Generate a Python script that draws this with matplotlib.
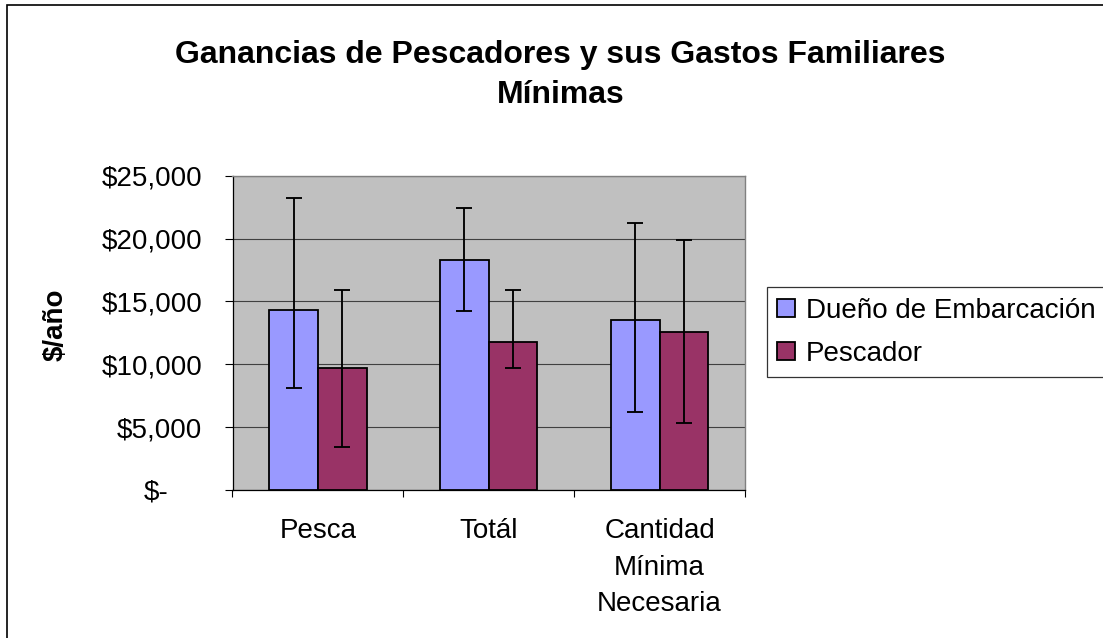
import matplotlib
matplotlib.use("Agg")
import matplotlib.pyplot as plt
import numpy as np
from matplotlib.patches import Rectangle

# ---- data ----
categories = ["Pesca", "Totál", "Cantidad\nMínima\nNecesaria"]
series_names = ["Dueño de Embarcación", "Pescador"]
dueno = [14300, 18300, 13500]
dueno_low = [8100, 14200, 6200]
dueno_high = [23200, 22400, 21200]
pescador = [9700, 11800, 12600]
pescador_low = [3400, 9700, 5300]
pescador_high = [15900, 15900, 19900]
ytick_values = [0, 5000, 10000, 15000, 20000, 25000]
ytick_labels = ["$-", "$5,000", "$10,000", "$15,000", "$20,000", "$25,000"]
title = "Ganancias de Pescadores y sus Gastos Familiares\nMínimas"
ylabel = "$/año"

W, H = 1103, 638
plt.rcParams['font.family'] = ['Liberation Sans', 'DejaVu Sans']
fig = plt.figure(figsize=(W / 100, H / 100), dpi=100)
fig.patch.set_facecolor('white')

# axes placement in pixels
L, R, T, B = 232.5, 745, 175.7, 490
ax = fig.add_axes([L / W, 1 - B / H, (R - L) / W, (B - T) / H])
ax.set_facecolor('#C0C0C0')

x = np.arange(len(categories))
bw = 0.285
c1, c2 = '#9999FF', '#993366'

def errs(vals, lo, hi):
    v = np.array(vals); return [v - np.array(lo), np.array(hi) - v]

ax.bar(x - bw / 2, dueno, bw, color=c1, edgecolor='black', linewidth=1.3,
       label=series_names[0], zorder=3)
ax.bar(x + bw / 2, pescador, bw, color=c2, edgecolor='black', linewidth=1.3,
       label=series_names[1], zorder=3)
ax.errorbar(x - bw / 2, dueno, yerr=errs(dueno, dueno_low, dueno_high), fmt='none',
            ecolor='black', elinewidth=1.35, capsize=5.5, capthick=1.35, zorder=4)
ax.errorbar(x + bw / 2, pescador, yerr=errs(pescador, pescador_low, pescador_high), fmt='none',
            ecolor='black', elinewidth=1.35, capsize=5.5, capthick=1.35, zorder=4)

ax.set_xlim(-0.5, len(categories) - 0.5)
ax.set_ylim(0, 25000)

# y axis
ax.set_yticks(ytick_values, labels=ytick_labels)
ax.yaxis.grid(True, color='#404040', linewidth=0.8, zorder=1)
ax.set_axisbelow(True)
ax.tick_params(axis='y', direction='out', length=5.8, width=0.8, color='black',
               pad=16, labelsize=20)
ax.yaxis.get_major_ticks()[0].set_pad(16 + 34 * 0.72)

# x axis: boundary ticks (minor) and centered labels (major)
ax.set_xticks(x, labels=categories)
ax.set_xticks(np.arange(len(categories) + 1) - 0.5, minor=True)
ax.tick_params(axis='x', which='major', length=0, pad=20.5, labelsize=20)
ax.tick_params(axis='x', which='minor', direction='out', length=5, width=0.8, color='black')
for lab in ax.get_xticklabels():
    lab.set_linespacing(1.52)
    lab.set_va('top')

for s in ['top', 'right']:
    ax.spines[s].set_color('#808080')
    ax.spines[s].set_linewidth(1.0)
for s in ['left', 'bottom']:
    ax.spines[s].set_color('black')
    ax.spines[s].set_linewidth(0.9)

ax.set_ylabel(ylabel, fontsize=20, fontweight='bold')
ax.yaxis.set_label_coords((69 - L) / (R - L), 0.525)

# title
fig.text(560.5 / W, 1 - 40 / H, title, ha='center', va='top', fontsize=23,
         fontweight='bold', linespacing=1.45, multialignment='center')

# legend
leg = fig.legend(loc='upper left', bbox_to_anchor=(766.7 / W, 1 - 287.3 / H),
                 fontsize=20, frameon=True, fancybox=False, borderaxespad=0,
                 borderpad=0.38, labelspacing=0.6, handlelength=0.63,
                 handleheight=0.63, handletextpad=0.4)
leg.get_frame().set_edgecolor('black')
leg.get_frame().set_linewidth(0.9)

# outer chart border
fig.patches.append(Rectangle((7 / W, -0.1), 1.2, 1.1 - 5 / H, transform=fig.transFigure,
                             fill=False, edgecolor='black', linewidth=1.2, zorder=0))

fig.savefig('out.png', dpi=100)
